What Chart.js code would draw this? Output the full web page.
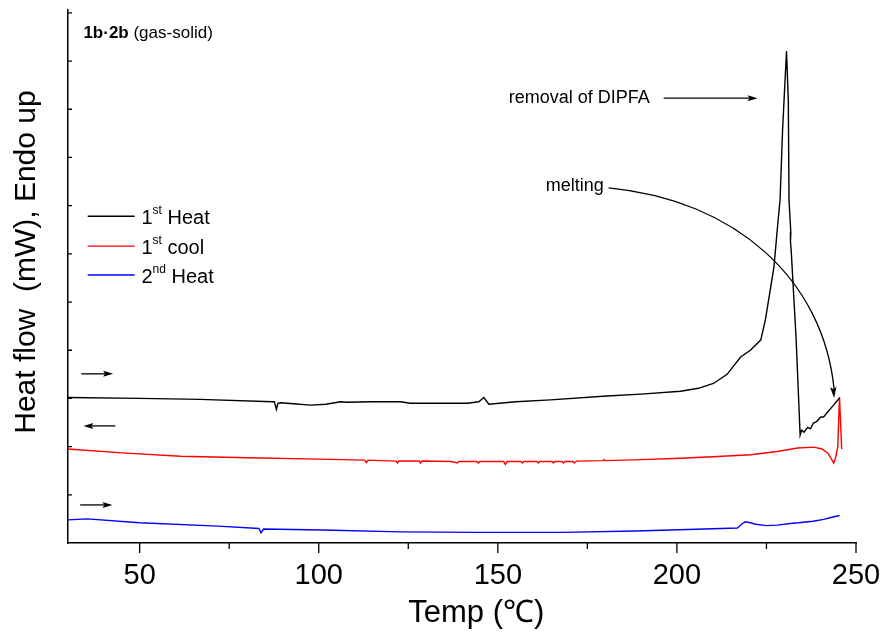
<!DOCTYPE html>
<html>
<head>
<meta charset="utf-8">
<script src="https://cdn.jsdelivr.net/npm/chart.js@4.4.1/dist/chart.umd.min.js"></script>
<style>
  body { margin: 0; background: #fff; }
  canvas { display: block; }
</style>
</head>
<body>
<canvas id="dsc" width="883" height="633"></canvas>
<script>
// 1st heat (black)
var heat1T = [30, 50, 66.9, 87.0, 87.6, 88.2, 88.6, 89.3, 93, 97.7, 102, 106.1, 107.9, 115, 122.8, 125.6, 135, 141.5, 144.7, 146.1, 147.5, 155, 164.7, 180.4, 190, 201, 206, 210.2, 214, 217.8, 220.5, 223.4, 224.7, 227.1, 228.0, 228.8, 229.5, 230.6, 231.1, 231.3, 231.8, 231.7, 231.9, 233.3, 234.4, 234.8, 235.5, 236.5, 237.3, 238.1, 239, 240.1, 241, 242.1, 243.5, 245.4];
var heat1Y = [3.02, 3.00, 2.98, 2.93, 2.93, 2.77, 2.90, 2.91, 2.89, 2.86, 2.88, 2.93, 2.92, 2.93, 2.93, 2.90, 2.90, 2.90, 2.93, 3.02, 2.88, 2.93, 2.97, 3.05, 3.09, 3.15, 3.21, 3.31, 3.50, 3.86, 4.00, 4.21, 4.63, 5.73, 6.49, 7.12, 8.57, 10.21, 9.19, 7.12, 6.45, 6.25, 6.08, 4.21, 2.24, 2.34, 2.30, 2.40, 2.37, 2.49, 2.52, 2.61, 2.62, 2.72, 2.84, 3.01];

// 1st cool (red)
var cool1T = [30, 45, 61.4, 80, 100, 112.8, 113.3, 113.8, 121.6, 122.0, 122.4, 128.0, 128.4, 128.8, 137, 138.7, 139.1, 144.2, 144.6, 145.0, 150, 151.6, 152.1, 152.6, 156.5, 156.9, 157.3, 160.9, 161.3, 161.7, 165.1, 165.5, 165.9, 167.9, 168.3, 168.7, 171.0, 171.4, 172, 179.4, 179.7, 180.1, 190, 201, 210, 220.6, 228, 233.7, 238.2, 240.5, 242.1, 243.0, 243.8, 244.4, 244.9, 245.4, 246.0];
var cool1Y = [1.95, 1.87, 1.80, 1.77, 1.74, 1.72, 1.67, 1.72, 1.70, 1.66, 1.70, 1.70, 1.66, 1.70, 1.69, 1.66, 1.69, 1.69, 1.66, 1.69, 1.69, 1.69, 1.63, 1.69, 1.69, 1.66, 1.69, 1.69, 1.66, 1.69, 1.69, 1.66, 1.69, 1.69, 1.66, 1.69, 1.69, 1.66, 1.70, 1.71, 1.73, 1.71, 1.73, 1.76, 1.79, 1.83, 1.90, 1.97, 1.99, 1.95, 1.87, 1.76, 1.66, 1.80, 1.99, 3.03, 1.95];

// 2nd heat (blue)
var heat2T = [30, 35.4, 50, 71.9, 83.3, 83.9, 84.6, 101, 122.9, 144.8, 168, 188.5, 203, 216.9, 218.2, 219.1, 220.5, 222, 225, 228, 232.3, 234, 236.6, 238, 241, 243, 245.4];
var heat2Y = [0.48, 0.50, 0.42, 0.35, 0.30, 0.21, 0.29, 0.27, 0.23, 0.22, 0.22, 0.25, 0.28, 0.31, 0.40, 0.44, 0.42, 0.39, 0.36, 0.37, 0.41, 0.42, 0.44, 0.45, 0.49, 0.53, 0.57];

var xTickLabels = [50, 100, 150, 200, 250];
var xMinorTicks = [75, 125, 175, 225];
var seriesNames = ['1|st| Heat', '1|st| cool', '2|nd| Heat'];
var seriesColors = ['#000000', '#ff0000', '#0000ff'];

function pairs(ts, ys) {
    return ts.map(function(t, i) { return { x: t, y: ys[i] }; });
}

var FONT = "'Liberation Sans', Arial, sans-serif";

function arrow(ctx, x1, y1, x2, y2, len, half) {
    var a = Math.atan2(y2 - y1, x2 - x1);
    ctx.beginPath();
    ctx.moveTo(x1, y1);
    ctx.lineTo(x2 - Math.cos(a) * len * 0.8, y2 - Math.sin(a) * len * 0.8);
    ctx.stroke();
    head(ctx, x2, y2, a, len, half);
}

function head(ctx, x, y, a, len, half) {
    ctx.beginPath();
    ctx.moveTo(x, y);
    ctx.lineTo(x - Math.cos(a) * len - Math.sin(a) * half, y - Math.sin(a) * len + Math.cos(a) * half);
    ctx.lineTo(x - Math.cos(a) * len * 0.8, y - Math.sin(a) * len * 0.8);
    ctx.lineTo(x - Math.cos(a) * len + Math.sin(a) * half, y - Math.sin(a) * len - Math.cos(a) * half);
    ctx.closePath();
    ctx.fill();
}

// draws "1|st| Heat" with a superscript middle part
function supText(ctx, txt, x, y, size) {
    var parts = txt.split('|');
    ctx.textAlign = 'left';
    ctx.textBaseline = 'alphabetic';
    ctx.font = size + 'px ' + FONT;
    ctx.fillText(parts[0], x, y);
    x += ctx.measureText(parts[0]).width;
    ctx.font = Math.round(size * 0.6) + 'px ' + FONT;
    ctx.fillText(parts[1], x, y - size * 0.5);
    x += ctx.measureText(parts[1]).width;
    ctx.font = size + 'px ' + FONT;
    ctx.fillText(parts[2], x, y);
}

var decor = {
    id: 'decor',
    afterDraw: function(chart) {
        var ctx = chart.ctx;
        var xs = chart.scales.x, ys = chart.scales.y;
        var area = chart.chartArea;
        var px = function(v) { return xs.getPixelForValue(v); };
        var py = function(v) { return ys.getPixelForValue(v); };
        ctx.save();
        ctx.strokeStyle = '#000';
        ctx.fillStyle = '#000';

        // axis ticks
        ctx.lineWidth = 1.3;
        ctx.beginPath();
        xTickLabels.forEach(function(v) {
            ctx.moveTo(px(v), area.bottom);
            ctx.lineTo(px(v), area.bottom + 10);
        });
        xMinorTicks.forEach(function(v) {
            ctx.moveTo(px(v), area.bottom);
            ctx.lineTo(px(v), area.bottom + 6);
        });
        for (var k = 1; k <= 11; k++) {
            ctx.moveTo(area.left, py(k));
            ctx.lineTo(area.left + 4, py(k));
        }
        ctx.stroke();

        // axis titles
        ctx.font = '31px ' + FONT;
        ctx.textAlign = 'center';
        ctx.textBaseline = 'middle';
        ctx.fillText('Temp (\u2103)', px(144), 613);
        ctx.font = '30px ' + FONT;
        ctx.save();
        ctx.translate(27, py(5.83));
        ctx.rotate(-Math.PI / 2);
        ctx.fillText('Heat flow  (mW), Endo up', 0, 0);
        ctx.restore();

        // sample label
        ctx.textAlign = 'left';
        ctx.textBaseline = 'alphabetic';
        ctx.font = 'bold 17px ' + FONT;
        var lx = px(34.3), ly = py(10.48);
        ctx.fillText('1b\u00b72b', lx, ly);
        lx += ctx.measureText('1b\u00b72b ').width;
        ctx.font = '17px ' + FONT;
        ctx.fillText('(gas-solid)', lx, ly);

        // legend
        var rows = [6.78, 6.16, 5.56];
        rows.forEach(function(r, i) {
            ctx.strokeStyle = seriesColors[i];
            ctx.lineWidth = 1.4;
            ctx.beginPath();
            ctx.moveTo(px(35.5), py(r));
            ctx.lineTo(px(48.6), py(r));
            ctx.stroke();
            ctx.fillStyle = '#000';
            supText(ctx, seriesNames[i], px(50.5), py(r) + 8, 20);
        });

        // direction arrows
        ctx.strokeStyle = '#000';
        ctx.fillStyle = '#000';
        ctx.lineWidth = 1.3;
        arrow(ctx, px(33.7), py(3.51), px(42.6), py(3.51), 10, 3);
        arrow(ctx, px(43.2), py(2.43), px(34.3), py(2.43), 10, 3);
        arrow(ctx, px(33.4), py(0.79), px(42.4), py(0.79), 10, 3);

        // removal of DIPFA
        ctx.font = '18px ' + FONT;
        ctx.textAlign = 'right';
        ctx.textBaseline = 'middle';
        ctx.fillText('removal of DIPFA', px(192.4), py(9.23));
        arrow(ctx, px(196.3), py(9.23), px(222.5), py(9.23), 10, 3);

        // melting
        ctx.fillText('melting', px(179.6), py(7.41));
        var p0 = [px(180.9), py(7.37)], p1 = [px(216.4), py(7.12)],
            p2 = [px(241.0), py(5.46)], p3 = [px(243.9), py(3.01)];
        ctx.beginPath();
        ctx.moveTo(p0[0], p0[1]);
        ctx.bezierCurveTo(p1[0], p1[1], p2[0], p2[1], p3[0], p3[1] - 8);
        ctx.stroke();
        head(ctx, p3[0], p3[1], Math.atan2(p3[1] - p2[1], p3[0] - p2[0]), 11, 3.2);

        ctx.restore();
    }
};

var ds = function(t, y, c) {
    return {
        data: pairs(t, y),
        borderColor: c,
        borderWidth: 1.4,
        pointRadius: 0,
        tension: 0,
        fill: false
    };
};

new Chart(document.getElementById('dsc'), {
    type: 'line',
    data: {
        datasets: [
            ds(heat1T, heat1Y, seriesColors[0]),
            ds(cool1T, cool1Y, seriesColors[1]),
            ds(heat2T, heat2Y, seriesColors[2])
        ]
    },
    options: {
        responsive: false,
        animation: false,
        layout: { padding: { top: 10, right: 27, left: 0, bottom: 0 } },
        plugins: { legend: { display: false }, tooltip: { enabled: false } },
        scales: {
            x: {
                type: 'linear',
                min: 30,
                max: 250,
                grid: { display: false, drawTicks: false },
                border: { display: true, color: '#000', width: 1.5 },
                ticks: {
                    color: '#000',
                    font: { size: 29, family: FONT },
                    padding: 16,
                    maxRotation: 0,
                    autoSkip: false
                },
                afterBuildTicks: function(scale) {
                    scale.ticks = xTickLabels.map(function(v) { return { value: v }; });
                },
                afterFit: function(scale) {
                    scale.height = 90;
                    scale.paddingLeft = 0;
                    scale.paddingRight = 0;
                }
            },
            y: {
                min: 0,
                max: 11.06,
                grid: { display: false, drawTicks: false },
                border: { display: true, color: '#000', width: 1.5 },
                ticks: { display: false },
                afterFit: function(scale) { scale.width = 68; }
            }
        }
    },
    plugins: [decor]
});
</script>
</body>
</html>
